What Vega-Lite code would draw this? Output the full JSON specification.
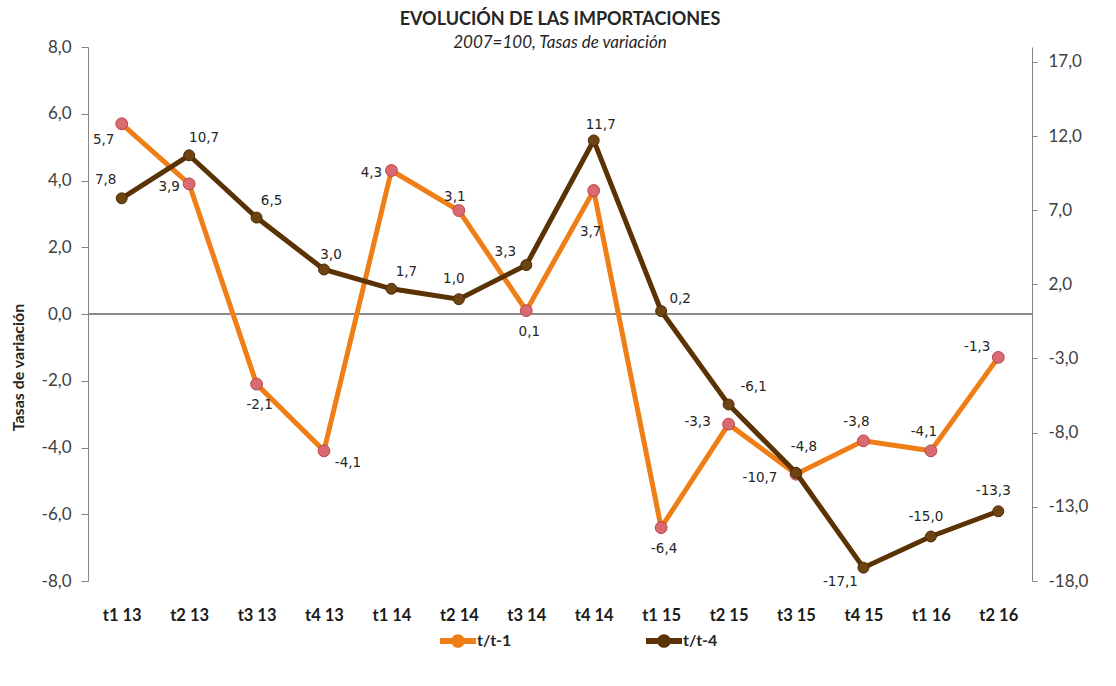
{
  "$schema": "https://vega.github.io/schema/vega-lite/v6.json",
  "width": 944,
  "height": 534,
  "autosize": {"type": "none"},
  "padding": {"left": 88, "top": 47, "right": 84, "bottom": 105},
  "background": "white",
  "title": {
    "text": "EVOLUCIÓN DE LAS IMPORTACIONES",
    "subtitle": "2007=100, Tasas de variación",
    "font": "Lato", "fontSize": 18, "fontWeight": "bold", "color": "#262626",
    "subtitleFont": "Lato", "subtitleFontSize": 17, "subtitleFontStyle": "italic", "subtitleColor": "#262626",
    "anchor": "middle", "offset": -13, "subtitlePadding": 6
  },
  "data": {
    "values": [
      {"q": "t1 13", "serie": "t/t-1", "v": 5.7},
      {"q": "t2 13", "serie": "t/t-1", "v": 3.9},
      {"q": "t3 13", "serie": "t/t-1", "v": -2.1},
      {"q": "t4 13", "serie": "t/t-1", "v": -4.1},
      {"q": "t1 14", "serie": "t/t-1", "v": 4.3},
      {"q": "t2 14", "serie": "t/t-1", "v": 3.1},
      {"q": "t3 14", "serie": "t/t-1", "v": 0.1},
      {"q": "t4 14", "serie": "t/t-1", "v": 3.7},
      {"q": "t1 15", "serie": "t/t-1", "v": -6.4},
      {"q": "t2 15", "serie": "t/t-1", "v": -3.3},
      {"q": "t3 15", "serie": "t/t-1", "v": -4.8},
      {"q": "t4 15", "serie": "t/t-1", "v": -3.8},
      {"q": "t1 16", "serie": "t/t-1", "v": -4.1},
      {"q": "t2 16", "serie": "t/t-1", "v": -1.3},
      {"q": "t1 13", "serie": "t/t-4", "v": 7.8},
      {"q": "t2 13", "serie": "t/t-4", "v": 10.7},
      {"q": "t3 13", "serie": "t/t-4", "v": 6.5},
      {"q": "t4 13", "serie": "t/t-4", "v": 3.0},
      {"q": "t1 14", "serie": "t/t-4", "v": 1.7},
      {"q": "t2 14", "serie": "t/t-4", "v": 1.0},
      {"q": "t3 14", "serie": "t/t-4", "v": 3.3},
      {"q": "t4 14", "serie": "t/t-4", "v": 11.7},
      {"q": "t1 15", "serie": "t/t-4", "v": 0.2},
      {"q": "t2 15", "serie": "t/t-4", "v": -6.1},
      {"q": "t3 15", "serie": "t/t-4", "v": -10.7},
      {"q": "t4 15", "serie": "t/t-4", "v": -17.1},
      {"q": "t1 16", "serie": "t/t-4", "v": -15.0},
      {"q": "t2 16", "serie": "t/t-4", "v": -13.3}
    ]
  },
  "layer": [
    {
      "transform": [{"filter": "datum.serie === 't/t-1'"}],
      "layer": [
        {
          "mark": {"type": "rule", "color": "#8a8a8a", "strokeWidth": 1},
          "encoding": {
            "y": {"datum": 0, "type": "quantitative",
              "scale": {"domain": [-8, 8], "nice": false, "zero": false},
              "axis": {"values": [-8, -6, -4, -2, 0, 2, 4, 6, 8], "format": ".1f", "title": "Tasas de variación",
                "titleX": -62, "titleY": 320, "titleFont": "Lato", "titleFontSize": 16, "titleFontWeight": "bold", "titleColor": "#262626",
                "labelFont": "Lato", "labelFontSize": 17, "labelColor": "#404040", "labelPadding": 10,
                "tickSize": 7, "tickColor": "#868686", "domainColor": "#868686", "grid": false, "orient": "left"}
            }
          }
        },
        {
          "encoding": {
            "x": {"field": "q", "type": "ordinal",
              "sort": ["t1 13","t2 13","t3 13","t4 13","t1 14","t2 14","t3 14","t4 14","t1 15","t2 15","t3 15","t4 15","t1 16","t2 16"],
              "scale": {"type": "point", "padding": 0.5},
              "axis": {"title": null, "domain": false, "ticks": false, "labelAngle": 0, "labelPadding": 26,
                "labelFont": "Lato", "labelFontSize": 16.5, "labelFontWeight": "bold", "labelColor": "#1a1a1a"}},
            "y": {"field": "v", "type": "quantitative",
              "scale": {"domain": [-8, 8], "nice": false, "zero": false},
              "axis": {"values": [-8, -6, -4, -2, 0, 2, 4, 6, 8], "format": ".1f", "title": "Tasas de variación",
                "titleX": -62, "titleY": 320, "titleFont": "Lato", "titleFontSize": 16, "titleFontWeight": "bold", "titleColor": "#262626",
                "labelFont": "Lato", "labelFontSize": 17, "labelColor": "#404040", "labelPadding": 10,
                "tickSize": 7, "tickColor": "#868686", "domainColor": "#868686", "grid": false, "orient": "left"}}
          },
          "layer": [
            {
              "mark": {"type": "line", "strokeWidth": 5},
              "encoding": {
                "color": {"field": "serie", "type": "nominal",
                  "scale": {"domain": ["t/t-1", "t/t-4"], "range": ["#F07E16", "#5B3204"]},
                  "legend": {"title": null, "orient": "none", "legendX": 352, "legendY": 576, "direction": "horizontal",
                    "columnPadding": 134, "labelFont": "Lato", "labelFontSize": 16, "labelFontWeight": "bold", "labelColor": "#262626",
                    "labelOffset": 1, "symbolSize": 1296,
                    "symbolType": "M-1,-0.17H1V0.17H-1Z M-0.38,0A0.38,0.38,0,1,1,0.38,0A0.38,0.38,0,1,1,-0.38,0Z",
                    "encode": {"symbols": {"update": {"fill": {"scale": "color", "field": "value"}, "stroke": {"scale": "color", "field": "value"}, "strokeWidth": {"value": 0}, "opacity": {"value": 1}}}}}
                }
              }
            },
            {"mark": {"type": "point", "filled": true, "size": 140, "fill": "#DA6A72", "stroke": "#B8464C", "strokeWidth": 1, "opacity": 1}},
            {"transform": [{"filter": {"field": "q", "oneOf": ["t3 13", "t3 14", "t1 15"]}}],
             "mark": {"type": "text", "dx": 3, "dy": 21, "font": "DejaVu Sans", "fontSize": 13.5, "color": "#262626"},
             "encoding": {"text": {"field": "v", "type": "quantitative", "format": ".1f"}}},
            {"transform": [{"filter": {"field": "q", "oneOf": ["t2 13", "t1 14"]}}],
             "mark": {"type": "text", "dx": -20, "dy": 3, "font": "DejaVu Sans", "fontSize": 13.5, "color": "#262626"},
             "encoding": {"text": {"field": "v", "type": "quantitative", "format": ".1f"}}},
            {"transform": [{"filter": {"field": "q", "oneOf": ["t1 13"]}}],
             "mark": {"type": "text", "dx": -18, "dy": 16, "font": "DejaVu Sans", "fontSize": 13.5, "color": "#262626"},
             "encoding": {"text": {"field": "v", "type": "quantitative", "format": ".1f"}}},
            {"transform": [{"filter": {"field": "q", "oneOf": ["t4 13"]}}],
             "mark": {"type": "text", "dx": 24, "dy": 12, "font": "DejaVu Sans", "fontSize": 13.5, "color": "#262626"},
             "encoding": {"text": {"field": "v", "type": "quantitative", "format": ".1f"}}},
            {"transform": [{"filter": {"field": "q", "oneOf": ["t4 14"]}}],
             "mark": {"type": "text", "dx": -3, "dy": 41, "font": "DejaVu Sans", "fontSize": 13.5, "color": "#262626"},
             "encoding": {"text": {"field": "v", "type": "quantitative", "format": ".1f"}}},
            {"transform": [{"filter": {"field": "q", "oneOf": ["t2 15"]}}],
             "mark": {"type": "text", "dx": -31, "dy": -2, "font": "DejaVu Sans", "fontSize": 13.5, "color": "#262626"},
             "encoding": {"text": {"field": "v", "type": "quantitative", "format": ".1f"}}},
            {"transform": [{"filter": {"field": "q", "oneOf": ["t3 15"]}}],
             "mark": {"type": "text", "dx": 8, "dy": -27, "font": "DejaVu Sans", "fontSize": 13.5, "color": "#262626"},
             "encoding": {"text": {"field": "v", "type": "quantitative", "format": ".1f"}}},
            {"transform": [{"filter": {"field": "q", "oneOf": ["t4 15", "t1 16"]}}],
             "mark": {"type": "text", "dx": -7, "dy": -19, "font": "DejaVu Sans", "fontSize": 13.5, "color": "#262626"},
             "encoding": {"text": {"field": "v", "type": "quantitative", "format": ".1f"}}},
            {"transform": [{"filter": {"field": "q", "oneOf": ["t2 14"]}}],
             "mark": {"type": "text", "dx": -4, "dy": -14, "font": "DejaVu Sans", "fontSize": 13.5, "color": "#262626"},
             "encoding": {"text": {"field": "v", "type": "quantitative", "format": ".1f"}}},
            {"transform": [{"filter": {"field": "q", "oneOf": ["t2 16"]}}],
             "mark": {"type": "text", "dx": -21, "dy": -10, "font": "DejaVu Sans", "fontSize": 13.5, "color": "#262626"},
             "encoding": {"text": {"field": "v", "type": "quantitative", "format": ".1f"}}}
          ]
        }
      ]
    },
    {
      "transform": [{"filter": "datum.serie === 't/t-4'"}],
      "encoding": {
        "x": {"field": "q", "type": "ordinal",
          "sort": ["t1 13","t2 13","t3 13","t4 13","t1 14","t2 14","t3 14","t4 14","t1 15","t2 15","t3 15","t4 15","t1 16","t2 16"],
          "scale": {"type": "point", "padding": 0.5},
          "axis": {"title": null, "domain": false, "ticks": false, "labelAngle": 0, "labelPadding": 26,
            "labelFont": "Lato", "labelFontSize": 16.5, "labelFontWeight": "bold", "labelColor": "#1a1a1a"}},
        "y": {"field": "v", "type": "quantitative",
          "scale": {"domain": [-18, 18], "nice": false, "zero": false},
          "axis": {"values": [-18, -13, -8, -3, 2, 7, 12, 17], "format": ".1f", "title": null, "orient": "right",
            "labelFont": "Lato", "labelFontSize": 17, "labelColor": "#404040", "labelPadding": 11,
            "tickSize": 5, "tickColor": "#868686", "domainColor": "#868686", "grid": false}}
      },
      "layer": [
        {
          "mark": {"type": "line", "strokeWidth": 5},
          "encoding": {
            "color": {"field": "serie", "type": "nominal",
              "scale": {"domain": ["t/t-1", "t/t-4"], "range": ["#F07E16", "#5B3204"]},
              "legend": {"title": null, "orient": "none", "legendX": 352, "legendY": 576, "direction": "horizontal",
                "columnPadding": 134, "labelFont": "Lato", "labelFontSize": 16, "labelFontWeight": "bold", "labelColor": "#262626",
                "labelOffset": 1, "symbolSize": 1296,
                "symbolType": "M-1,-0.17H1V0.17H-1Z M-0.38,0A0.38,0.38,0,1,1,0.38,0A0.38,0.38,0,1,1,-0.38,0Z",
                "encode": {"symbols": {"update": {"fill": {"scale": "color", "field": "value"}, "stroke": {"scale": "color", "field": "value"}, "strokeWidth": {"value": 0}, "opacity": {"value": 1}}}}}
            }
          }
        },
        {"mark": {"type": "point", "filled": true, "size": 120, "fill": "#6E4412", "stroke": "#4A2A05", "strokeWidth": 1, "opacity": 1}},
        {"transform": [{"filter": {"field": "q", "oneOf": ["t2 13", "t3 13", "t1 14"]}}],
         "mark": {"type": "text", "dx": 15, "dy": -17, "font": "DejaVu Sans", "fontSize": 13.5, "color": "#262626"},
         "encoding": {"text": {"field": "v", "type": "quantitative", "format": ".1f"}}},
        {"transform": [{"filter": {"field": "q", "oneOf": ["t4 13", "t4 14"]}}],
         "mark": {"type": "text", "dx": 7, "dy": -15, "font": "DejaVu Sans", "fontSize": 13.5, "color": "#262626"},
         "encoding": {"text": {"field": "v", "type": "quantitative", "format": ".1f"}}},
        {"transform": [{"filter": {"field": "q", "oneOf": ["t2 14", "t1 16", "t2 16"]}}],
         "mark": {"type": "text", "dx": -5, "dy": -20, "font": "DejaVu Sans", "fontSize": 13.5, "color": "#262626"},
         "encoding": {"text": {"field": "v", "type": "quantitative", "format": ".1f"}}},
        {"transform": [{"filter": {"field": "q", "oneOf": ["t1 13"]}}],
         "mark": {"type": "text", "dx": -16, "dy": -18, "font": "DejaVu Sans", "fontSize": 13.5, "color": "#262626"},
         "encoding": {"text": {"field": "v", "type": "quantitative", "format": ".1f"}}},
        {"transform": [{"filter": {"field": "q", "oneOf": ["t3 14"]}}],
         "mark": {"type": "text", "dx": -21, "dy": -13, "font": "DejaVu Sans", "fontSize": 13.5, "color": "#262626"},
         "encoding": {"text": {"field": "v", "type": "quantitative", "format": ".1f"}}},
        {"transform": [{"filter": {"field": "q", "oneOf": ["t1 15"]}}],
         "mark": {"type": "text", "dx": 19, "dy": -12, "font": "DejaVu Sans", "fontSize": 13.5, "color": "#262626"},
         "encoding": {"text": {"field": "v", "type": "quantitative", "format": ".1f"}}},
        {"transform": [{"filter": {"field": "q", "oneOf": ["t2 15"]}}],
         "mark": {"type": "text", "dx": 25, "dy": -17, "font": "DejaVu Sans", "fontSize": 13.5, "color": "#262626"},
         "encoding": {"text": {"field": "v", "type": "quantitative", "format": ".1f"}}},
        {"transform": [{"filter": {"field": "q", "oneOf": ["t3 15"]}}],
         "mark": {"type": "text", "dx": -36, "dy": 5, "font": "DejaVu Sans", "fontSize": 13.5, "color": "#262626"},
         "encoding": {"text": {"field": "v", "type": "quantitative", "format": ".1f"}}},
        {"transform": [{"filter": {"field": "q", "oneOf": ["t4 15"]}}],
         "mark": {"type": "text", "dx": -23, "dy": 14, "font": "DejaVu Sans", "fontSize": 13.5, "color": "#262626"},
         "encoding": {"text": {"field": "v", "type": "quantitative", "format": ".1f"}}}
      ]
    }
  ],
  "resolve": {"scale": {"y": "independent"}},
  "config": {
    "view": {"stroke": null},
    "locale": {"number": {"decimal": ",", "thousands": ".", "grouping": [3], "currency": ["", " €"], "minus": "-"}}
  }
}
